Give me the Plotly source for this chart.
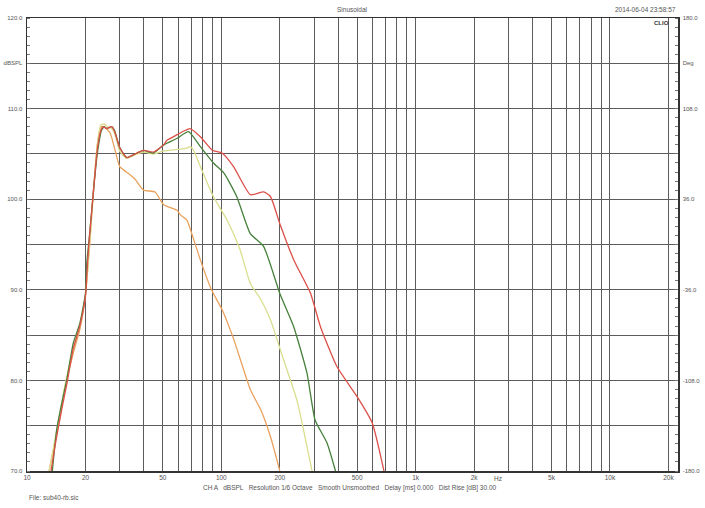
import numpy as np
import plotly.graph_objects as go

# ---------------- data ----------------
red_f = [13.3, 14.0, 15.0, 16.0, 17.3, 18.7, 20.0, 20.5, 21.1, 22.0, 23.0, 24.0, 24.6, 25.7, 27.3, 28.2,
         30.0, 32.6, 36.8, 39.8, 44.7, 50.5, 52.5, 59.0, 63.9, 69.0, 78.0, 90.0, 100.8, 115.6, 141.0,
         165.0, 179.0, 200.0, 236.0, 288.0, 324.0, 394.0, 500.0, 598.0, 687.0]
red_db = [70.0, 73.0, 76.5, 79.5, 83.5, 86.0, 89.3, 93.0, 96.6, 101.0, 105.5, 107.6, 108.0, 107.8, 108.0, 107.5,
          105.7, 104.6, 105.1, 105.4, 105.2, 106.0, 106.5, 107.1, 107.5, 107.8, 106.9, 105.4, 105.1, 103.6, 100.5,
          100.8, 100.3, 97.3, 93.3, 89.6, 85.9, 81.5, 78.2, 75.3, 70.0]

green_f = [13.5, 14.2, 15.1, 16.0, 17.3, 18.7, 20.0, 20.3, 21.1, 22.0, 23.0, 24.2, 25.0, 25.7, 27.3, 28.2,
           30.0, 32.6, 36.8, 39.8, 44.7, 50.5, 59.0, 67.8, 78.0, 91.0, 103.0, 120.0, 141.0, 165.0,
           200.0, 236.0, 276.0, 304.0, 350.0, 387.0]
green_db = [70.0, 74.5, 77.5, 80.0, 84.1, 86.3, 89.6, 92.9, 96.6, 101.0, 105.0, 107.6, 108.0, 107.8, 108.0, 107.6,
            105.7, 104.6, 105.1, 105.4, 105.1, 106.0, 106.7, 107.45, 105.8, 104.0, 102.9, 100.3, 96.2, 94.8,
            89.6, 85.9, 80.8, 75.6, 73.1, 70.0]

light_f = [13.0, 13.8, 14.8, 15.7, 17.3, 18.7, 20.0, 21.0, 22.0, 23.0, 24.0, 25.0, 26.0, 27.3, 28.5,
           30.0, 32.6, 36.0, 40.0, 45.0, 50.0, 60.0, 66.0, 69.0, 72.0, 78.0, 91.0, 107.0, 125.0, 141.0,
           160.0, 179.0, 209.0, 245.0, 293.0]
light_db = [70.0, 73.0, 76.5, 79.5, 83.5, 86.0, 89.5, 95.0, 101.0, 106.0, 108.2, 108.3, 108.0, 107.8, 107.0,
            105.3, 104.5, 104.9, 105.2, 105.0, 105.3, 105.5, 105.6, 105.8, 105.4, 103.6, 100.3, 97.7, 94.4, 90.7,
            88.9, 86.7, 82.3, 77.8, 70.0]

orange_f = [13.0, 13.9, 14.8, 15.7, 17.3, 18.7, 20.0, 21.1, 22.0, 23.0, 24.0, 25.0, 26.8, 28.4,
            30.0, 33.9, 36.0, 39.8, 45.6, 50.5, 59.0, 61.5, 66.5, 69.0, 78.0, 89.0, 101.0, 116.0, 141.0,
            160.0, 179.0, 200.0]
orange_db = [70.0, 73.1, 76.0, 79.3, 83.0, 85.6, 89.5, 95.5, 101.0, 106.0, 108.0, 108.0, 107.3, 105.4,
             103.6, 102.7, 102.2, 101.0, 100.8, 99.4, 98.8, 98.3, 97.7, 96.8, 93.3, 90.0, 87.8, 84.5, 79.0,
             76.7, 73.8, 70.0]

x_tick_vals = [10, 20, 50, 100, 200, 500, 1000, 2000, 5000, 10000, 20000]
x_tick_text = ["10", "20", "50", "100", "200", "500", "1k", "2k", "5k", "10k", "20k"]
y_tick_vals = [70, 75, 80, 85, 90, 95, 100, 105, 110, 115, 120]
y_tick_text = ["70.0", "", "80.0", "", "90.0", "", "100.0", "", "110.0", "dBSPL", "120.0"]
y2_tick_text = ["-180.0", "", "-108.0", "", "-36.0", "", "36.0", "", "108.0", "Deg", "180.0"]

# ---------------- figure ----------------
FONT = "Liberation Sans, Arial, sans-serif"
TXT = "#555555"
GRID = "#5c5c5c"

x_grid = [d * m for d in (10, 100, 1000, 10000) for m in range(1, 10) if 10 < d * m <= 22400]

fig = go.Figure()
for f, db, col in [(orange_f, orange_db, "#e9a25e"),
                   (light_f, light_db, "#d9de8c"),
                   (green_f, green_db, "#46803a"),
                   (red_f, red_db, "#dc5048")]:
    fig.add_trace(go.Scatter(x=f, y=db, mode="lines",
                             line=dict(color=col, width=1.3, shape="spline", smoothing=0.5),
                             showlegend=False, hoverinfo="skip", cliponaxis=True))
fig.add_trace(go.Scatter(x=[10], y=[None], yaxis="y2", mode="lines", showlegend=False, hoverinfo="skip"))

fig.update_layout(
    width=705, height=508,
    margin=dict(l=27, r=27, t=18, b=37, autoexpand=False),
    paper_bgcolor="white", plot_bgcolor="white",
    font=dict(family=FONT, size=6.5, color=TXT),
    xaxis=dict(type="log", range=[1, np.log10(22400)], automargin=False,
               tickvals=x_tick_vals, ticktext=x_tick_text, ticks="", showgrid=False,
               showline=True, linecolor="#333333", linewidth=1.5, mirror=True,
               tickfont=dict(size=6.5, color=TXT), zeroline=False,
               minor=dict(tickvals=x_grid, showgrid=True, gridcolor=GRID, gridwidth=1, ticks="")),
    yaxis=dict(range=[70, 120], tickvals=y_tick_vals, ticktext=y_tick_text, automargin=False,
               ticks="", showgrid=True, gridcolor=GRID, gridwidth=1, zeroline=False,
               showline=True, linecolor="#333333", linewidth=1.5,
               tickfont=dict(size=6, color=TXT), ticklabelstandoff=2,
               minor=dict(dtick=1, ticks="inside", ticklen=3, tickcolor="#777777", showgrid=False)),
    yaxis2=dict(range=[70, 120], overlaying="y", side="right", tickvals=y_tick_vals, ticktext=y2_tick_text,
                ticks="", showgrid=False, zeroline=False, automargin=False,
                showline=True, linecolor="#333333", linewidth=1.5,
                tickfont=dict(size=6, color=TXT), ticklabelstandoff=2,
                minor=dict(dtick=1, ticks="inside", ticklen=3, tickcolor="#777777", showgrid=False)),
)

ann = [
    dict(text="Sinusoidal", x=0.5, y=1.0177, xanchor="center", yanchor="middle", font=dict(size=6.5)),
    dict(text="2014-06-04 23:58:57", x=1.0, y=1.0177, xanchor="right", yanchor="middle", font=dict(size=6.5)),
    dict(text="<b>CLIO</b>", x=0.99, y=0.989, xanchor="right", yanchor="middle", font=dict(size=6, color="#333333")),
    dict(text="Hz", x=0.7235, y=-0.0155, xanchor="center", yanchor="middle", font=dict(size=6.5)),
    dict(text="CH A &nbsp; dBSPL &nbsp; Resolution 1/6 Octave &nbsp; Smooth Unsmoothed &nbsp; Delay [ms] 0.000 &nbsp; Dist Rise [dB] 30.00",
         x=0.496, y=-0.0375, xanchor="center", yanchor="middle", font=dict(size=6.5)),
    dict(text="File: sub40-rb.sic", x=0.0, y=-0.0574, xanchor="left", yanchor="middle", font=dict(size=6.5)),
]
for a in ann:
    a.update(xref="paper", yref="paper", showarrow=False)
fig.update_layout(annotations=ann)

fig.write_html("out.html", config={"displayModeBar": False, "staticPlot": True},
               post_script="document.body.style.margin='0';document.body.style.overflow='hidden';")
